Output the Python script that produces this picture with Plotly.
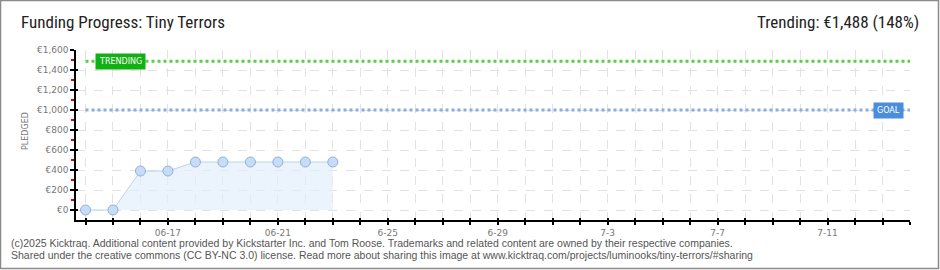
import plotly.graph_objects as go
import pandas as pd

# ---- data ----
dates = ["2025-06-14", "2025-06-15", "2025-06-16", "2025-06-17", "2025-06-18",
         "2025-06-19", "2025-06-20", "2025-06-21", "2025-06-22", "2025-06-23"]
pledged = [0, 0, 390, 390, 480, 480, 480, 480, 480, 480]
goal = 1000
trending = 1488
campaign_start = "2025-06-14"
campaign_end = "2025-07-14"
tick_days = [d.strftime("%Y-%m-%d") for d in pd.date_range(campaign_start, campaign_end)]
label_map = {"2025-06-17": "06-17", "2025-06-21": "06-21", "2025-06-25": "6-25",
             "2025-06-29": "6-29", "2025-07-03": "7-3", "2025-07-07": "7-7",
             "2025-07-11": "7-11"}
tick_text = [label_map.get(d, "") for d in tick_days]
y_ticks = [0, 200, 400, 600, 800, 1000, 1200, 1400, 1600]
y_tick_text = ["€0", "€200", "€400", "€600", "€800", "€1,000", "€1,200", "€1,400", "€1,600"]
footer_lines = [
    "(c)2025 Kicktraq. Additional content provided by Kickstarter Inc. and Tom Roose. "
    "Trademarks and related content are owned by their respective companies.",
    "Shared under the creative commons (CC BY-NC 3.0) license. Read more about sharing "
    "this image at www.kicktraq.com/projects/luminooks/tiny-terrors/#sharing",
]

W, H = 940, 270
L, R, T, B = 76, 30, 50, 50
PW, PH = W - L - R, H - T - B


def px(xp):
    return (xp - L) / PW


def py(yp):
    return (H - B - yp) / PH


fig = go.Figure()

# goal and trending reference lines
fig.add_trace(go.Scatter(x=[campaign_start, campaign_end], y=[trending, trending],
                         mode="lines", line=dict(color="#5ccc4c", width=3, dash="dot"),
                         hoverinfo="skip", showlegend=False))
fig.add_trace(go.Scatter(x=[campaign_start, campaign_end], y=[goal, goal],
                         mode="lines", line=dict(color="#8aaedc", width=3, dash="dot"),
                         hoverinfo="skip", showlegend=False))

# pledged series
fig.add_trace(go.Scatter(x=dates, y=pledged, mode="lines+markers", fill="tozeroy",
                         fillcolor="rgba(226,238,251,0.7)",
                         line=dict(color="#b9d3f2", width=1),
                         marker=dict(size=10, color="#c7ddf7", line=dict(color="#8fb0db", width=1)),
                         showlegend=False))

# overlay axes for inward-facing ticks
fig.add_trace(go.Scatter(x=[campaign_start], y=[0], xaxis="x2", yaxis="y2",
                         mode="markers", marker=dict(opacity=0), hoverinfo="skip",
                         showlegend=False))

tick_font = dict(family="DejaVu Sans", size=9, color="#777")
xr = [pd.Timestamp(campaign_start) - pd.Timedelta(hours=8.3), pd.Timestamp(campaign_end)]
yr = [-100, 1600]
title_font = dict(family="Liberation Sans Narrow, Roboto Condensed, Roboto", size=17, color="#222")
footer_font = dict(family="Liberation Sans", size=10.5, color="#555")

annotations = [
    dict(text="Funding Progress: Tiny Terrors", xref="paper", yref="paper",
         x=px(19), y=py(22), xanchor="left", yanchor="middle", showarrow=False,
         font=title_font),
    dict(text="Trending: €1,488 (148%)", xref="paper", yref="paper",
         x=px(921), y=py(22), xanchor="right", yanchor="middle", showarrow=False,
         font=title_font),
    dict(text="PLEDGED", xref="paper", yref="paper", textangle=-90,
         x=px(25), y=py(131), xanchor="center", yanchor="middle", showarrow=False,
         font=dict(family="DejaVu Sans", size=8, color="#777")),
    dict(text="TRENDING", xref="paper", yref="y",
         x=px(120), y=trending, xanchor="center", yanchor="middle", showarrow=False,
         bgcolor="#12b012", borderpad=3, font=dict(family="DejaVu Sans", size=8, color="white")),
    dict(text="GOAL", xref="paper", yref="y",
         x=px(888), y=goal, xanchor="center", yanchor="middle", showarrow=False,
         bgcolor="#4a8ddc", borderpad=3, font=dict(family="DejaVu Sans", size=8, color="white")),
]
for i, line in enumerate(footer_lines):
    annotations.append(dict(text=line, xref="paper", yref="paper", x=px(9), y=py(243 + 12 * i),
                            xanchor="left", yanchor="middle", align="left", showarrow=False,
                            font=footer_font))

fig.update_layout(
    width=W, height=H,
    margin=dict(l=L, r=R, t=T, b=B),
    paper_bgcolor="white", plot_bgcolor="white",
    xaxis=dict(range=xr, tickvals=tick_days, ticktext=tick_text, tickfont=tick_font,
               showgrid=True, gridcolor="#e2e2e2", griddash="dash", gridwidth=1,
               showline=True, linecolor="black", linewidth=1.5,
               ticks="outside", ticklen=3, tickcolor="black", tickwidth=1.5,
               zeroline=False, fixedrange=True),
    yaxis=dict(range=yr, tickvals=y_ticks, ticktext=y_tick_text, tickfont=tick_font,
               showgrid=True, gridcolor="#e2e2e2", griddash="dash", gridwidth=1,
               showline=True, linecolor="black", linewidth=1.5,
               ticks="outside", ticklen=4, tickcolor="black", tickwidth=1.5,
               minor=dict(ticks="outside", tickcolor="#e00000", ticklen=3, tickwidth=1.5,
                          tickvals=[100, 300, 500, 700, 900, 1100, 1300, 1500], showgrid=False),
               zeroline=False, fixedrange=True),
    xaxis2=dict(range=xr, overlaying="x", tickvals=tick_days, ticktext=["" for _ in tick_days],
                ticks="inside", ticklen=2, tickcolor="black", tickwidth=1.5,
                showgrid=False, showline=False, zeroline=False),
    yaxis2=dict(range=yr, overlaying="y", tickvals=y_ticks, ticktext=["" for _ in y_ticks],
                ticks="inside", ticklen=2, tickcolor="black", tickwidth=1.5,
                showgrid=False, showline=False, zeroline=False),
    shapes=[dict(type="rect", xref="paper", yref="paper",
                 x0=px(0.5), x1=px(W - 1.5), y0=py(H - 1.5), y1=py(0.5),
                 line=dict(color="#8a8a8a", width=1.5), fillcolor="rgba(0,0,0,0)", layer="below")],
    annotations=annotations,
)

fig.write_html("out.html")
